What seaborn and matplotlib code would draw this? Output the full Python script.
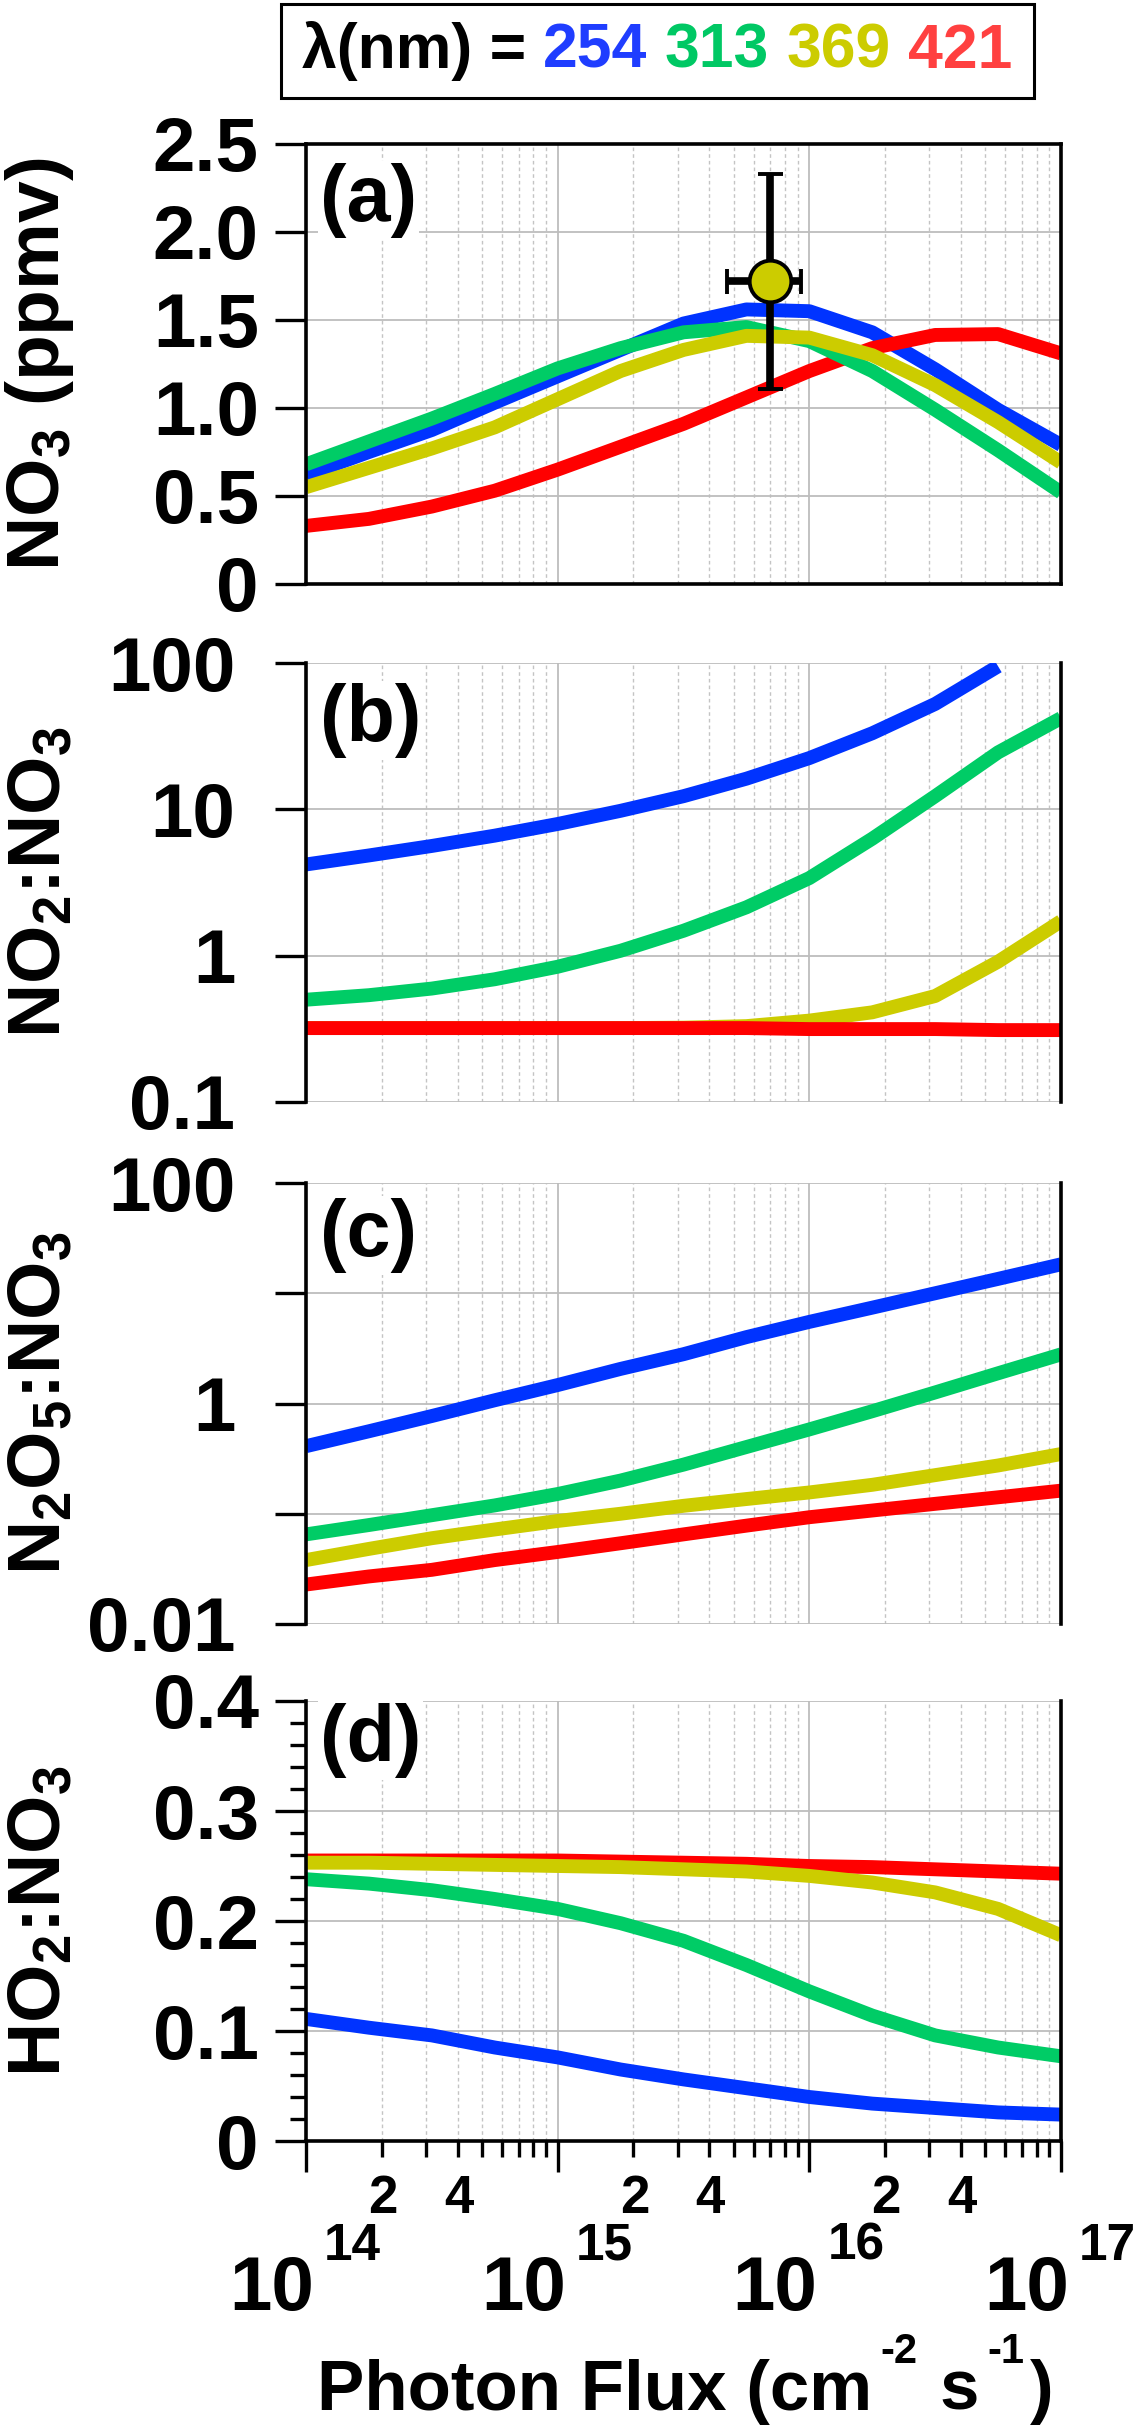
import numpy as np
import pandas as pd
import matplotlib
matplotlib.use("Agg")
import matplotlib.pyplot as plt
import matplotlib.ticker as mticker
from matplotlib.transforms import offset_copy
from matplotlib.offsetbox import TextArea, HPacker, AnchoredOffsetbox
from matplotlib.patches import Rectangle
import seaborn as sns

sns.set_style("white")
plt.rcParams['font.family'] = ['Liberation Sans', 'DejaVu Sans']
plt.rcParams['font.weight'] = 'bold'
plt.rcParams['mathtext.default'] = 'regular'
for k in ['text.color', 'axes.labelcolor', 'xtick.color', 'ytick.color', 'axes.edgecolor']:
    plt.rcParams[k] = 'black'

# photon flux grid (log10 of cm-2 s-1)
flux_exp = [14.0, 14.25, 14.5, 14.75, 15.0, 15.25, 15.5, 15.75, 16.0, 16.25, 16.5, 16.75, 17.0]
wavelengths = ['254', '313', '369', '421']
colors = {'254': '#0033FF', '313': '#00CC66', '369': '#CCCC00', '421': '#FF0000'}
text_colors = {'254': '#1F3DFF', '313': '#00C864', '369': '#CCCC00', '421': '#FF4040'}

# (a) NO3 (ppmv)
no3_254 = [0.62, 0.75, 0.875, 1.03, 1.18, 1.33, 1.48, 1.56, 1.55, 1.43, 1.22, 0.99, 0.79]
no3_313 = [0.68, 0.81, 0.94, 1.08, 1.225, 1.34, 1.43, 1.46, 1.38, 1.21, 0.99, 0.76, 0.52]
no3_369 = [0.55, 0.66, 0.77, 0.89, 1.05, 1.21, 1.33, 1.41, 1.40, 1.30, 1.13, 0.92, 0.69]
no3_421 = [0.33, 0.37, 0.44, 0.53, 0.65, 0.78, 0.91, 1.06, 1.21, 1.34, 1.415, 1.42, 1.31]

# (b) NO2:NO3
no2_254 = [4.2, 4.84, 5.62, 6.61, 7.94, 9.77, 12.3, 16.2, 22.4, 33.1, 52.5, 95, np.nan]
no2_313 = [0.50, 0.537, 0.596, 0.69, 0.84, 1.08, 1.48, 2.14, 3.39, 6.3, 12.3, 24.5, 42]
no2_369 = [0.32, 0.32, 0.32, 0.32, 0.32, 0.32, 0.322, 0.33, 0.36, 0.41, 0.53, 0.91, 1.72]
no2_421 = [0.32, 0.32, 0.32, 0.32, 0.32, 0.32, 0.32, 0.32, 0.315, 0.315, 0.315, 0.31, 0.31]

# (c) N2O5:NO3
n2o5_254 = [0.41, 0.56, 0.77, 1.07, 1.47, 2.06, 2.8, 4.0, 5.5, 7.4, 10.0, 13.5, 18.3]
n2o5_313 = [0.065, 0.079, 0.097, 0.119, 0.151, 0.20, 0.279, 0.403, 0.582, 0.851, 1.26, 1.88, 2.79]
n2o5_369 = [0.038, 0.048, 0.060, 0.072, 0.086, 0.10, 0.118, 0.136, 0.156, 0.183, 0.224, 0.274, 0.348]
n2o5_421 = [0.0228, 0.027, 0.031, 0.038, 0.045, 0.054, 0.065, 0.078, 0.093, 0.107, 0.123, 0.141, 0.162]

# (d) HO2:NO3
ho2_254 = [0.111, 0.103, 0.096, 0.085, 0.076, 0.065, 0.056, 0.048, 0.040, 0.034, 0.030, 0.026, 0.024]
ho2_313 = [0.238, 0.234, 0.228, 0.220, 0.211, 0.198, 0.182, 0.160, 0.136, 0.114, 0.096, 0.085, 0.077]
ho2_369 = [0.253, 0.253, 0.252, 0.251, 0.250, 0.249, 0.247, 0.245, 0.241, 0.235, 0.226, 0.211, 0.187]
ho2_421 = [0.255, 0.255, 0.255, 0.255, 0.255, 0.254, 0.253, 0.252, 0.250, 0.249, 0.247, 0.245, 0.243]

# measured NO3 point
obs_flux = [7.0e15]
obs_flux_err = [2.3e15]
obs_no3 = [1.72]
obs_no3_err = [0.61]

# x tick labels of the bottom axis
major_ticks = [1e14, 1e15, 1e16, 1e17]
major_exps = ['14', '15', '16', '17']
minor_labelled = [2e14, 4e14, 2e15, 4e15, 2e16, 4e16]
minor_texts = ['2', '4', '2', '4', '2', '4']

flux = 10.0 ** np.array(flux_exp)


def long_df(series):
    frames = []
    for wl, vals in zip(wavelengths, series):
        frames.append(pd.DataFrame({'flux': flux, 'value': vals, 'wl': wl}))
    return pd.concat(frames, ignore_index=True)


W, H = 1136, 2428
fig = plt.figure(figsize=(W / 100, H / 100), dpi=100)

x0, x1 = 306, 1061
panel_px = [(144, 584), (663, 1102), (1183, 1624), (1701, 2141)]
axes = []
for top, bot in panel_px:
    axes.append(fig.add_axes([x0 / W, 1 - bot / H, (x1 - x0) / W, (bot - top) / H]))

panels = [
    dict(data=[no3_254, no3_313, no3_369, no3_421], ylabel=r'NO$_3$ (ppmv)', letter='(a)',
         order=['254', '421', '313', '369'], off=19),
    dict(data=[no2_254, no2_313, no2_369, no2_421], ylabel=r'NO$_2$:NO$_3$', letter='(b)',
         order=['254', '313', '369', '421'], off=20),
    dict(data=[n2o5_254, n2o5_313, n2o5_369, n2o5_421], ylabel=r'N$_2$O$_5$:NO$_3$', letter='(c)',
         order=['254', '313', '369', '421'], off=15),
    dict(data=[ho2_254, ho2_313, ho2_369, ho2_421], ylabel=r'HO$_2$:NO$_3$', letter='(d)',
         order=['254', '313', '421', '369'], off=2),
]

tick_fs = 55
grid_major = '#BDBDBD'
grid_minor = '#C4C4C4'

for i, (ax, p) in enumerate(zip(axes, panels)):
    df = long_df(p['data'])
    sns.lineplot(data=df, x='flux', y='value', hue='wl', hue_order=p['order'],
                 palette=colors, linewidth=10, legend=False, ax=ax, sort=True,
                 solid_capstyle='butt', solid_joinstyle='round')
    ax.set_xscale('log')
    ax.set_xlim(1e14, 1e17)
    ax.set_xlabel('')
    ax.set_ylabel('')

    ax.xaxis.set_major_locator(mticker.LogLocator(base=10, numticks=10))
    ax.xaxis.set_minor_locator(mticker.LogLocator(base=10, subs=np.arange(2, 10), numticks=30))
    ax.grid(True, which='major', axis='both', color=grid_major, lw=1.3, ls='-')
    ax.grid(True, which='minor', axis='x', color=grid_minor, lw=1.0, ls=(0, (2.6, 2.2)))
    ax.set_axisbelow(True)

    for s in ax.spines.values():
        s.set_linewidth(2.6)
        s.set_color('black')

    ax.tick_params(axis='y', which='major', direction='out', length=22, width=2.4,
                   labelsize=tick_fs, left=True, right=False, colors='black')
    ax.tick_params(axis='y', which='minor', direction='out', length=11.5, width=2.4,
                   left=True, right=False, colors='black')

    if i < 3:
        ax.tick_params(axis='x', which='both', bottom=False, labelbottom=False)
    else:
        ax.tick_params(axis='x', which='major', direction='out', length=22, width=2.4,
                       bottom=True, labelbottom=False, colors='black')
        ax.tick_params(axis='x', which='minor', direction='out', length=11.5, width=2.4,
                       bottom=True, labelbottom=False, colors='black')

    ax.text(14 / (x1 - x0), 1 - p['off'] / 440, p['letter'], transform=ax.transAxes,
            ha='left', va='top', fontsize=57, fontweight='bold', zorder=20, color='black',
            bbox=dict(facecolor='white', edgecolor='none', pad=1))

    fig.text(40 / W, 1 - (panel_px[i][0] + panel_px[i][1]) / 2 / H, p['ylabel'],
             rotation=90, ha='center', va='center', fontsize=54, fontweight='bold', color='black')

# panel a
ax = axes[0]
ax.set_ylim(0, 2.5)
ax.set_yticks([0, 0.5, 1.0, 1.5, 2.0, 2.5])
ax.set_yticklabels(['0', '0.5', '1.0', '1.5', '2.0', '2.5'])
ax.yaxis.set_minor_locator(mticker.NullLocator())
ax.tick_params(axis='y', pad=12)
ax.errorbar(obs_flux, obs_no3, xerr=obs_flux_err, yerr=obs_no3_err, fmt='o', ms=30,
            mfc='#CCCC00', mec='black', mew=2.8, ecolor='black', elinewidth=5.5,
            capsize=9, capthick=5, zorder=15)

# panel b
ax = axes[1]
ax.set_yscale('log')
ax.set_ylim(0.1, 100)
ax.set_yticks([0.1, 1, 10, 100])
ax.set_yticklabels(['0.1', '1', '10', '100'])
ax.yaxis.set_minor_locator(mticker.NullLocator())
ax.tick_params(axis='y', pad=29)
ax.spines['top'].set_visible(False)
ax.spines['bottom'].set_visible(False)

# panel c
ax = axes[2]
ax.set_yscale('log')
ax.set_ylim(0.01, 100)
ax.set_yticks([0.01, 0.1, 1, 10, 100])
ax.set_yticklabels(['0.01', '', '1', '', '100'])
ax.yaxis.set_minor_locator(mticker.NullLocator())
ax.tick_params(axis='y', pad=29)
ax.spines['top'].set_visible(False)
ax.spines['bottom'].set_visible(False)

# panel d
ax = axes[3]
ax.set_ylim(0, 0.4)
ax.set_yticks([0, 0.1, 0.2, 0.3, 0.4])
ax.set_yticklabels(['0', '0.1', '0.2', '0.3', '0.4'])
ax.yaxis.set_minor_locator(mticker.MultipleLocator(0.02))
ax.tick_params(axis='y', pad=12)
ax.spines['top'].set_visible(False)

# x tick labels in two rows: "2 4" and 10 with raised exponent
xtr = ax.get_xaxis_transform()
for v, e in zip(major_ticks, major_exps):
    ax.text(v, 0, '10', transform=offset_copy(xtr, fig=fig, x=8, y=-169, units='dots'),
            ha='right', va='baseline', fontsize=55, fontweight='bold', clip_on=False)
    ax.text(v, 0, e, transform=offset_copy(xtr, fig=fig, x=18, y=-119, units='dots'),
            ha='left', va='baseline', fontsize=37, fontweight='bold', clip_on=False)
for v, s in zip(minor_labelled, minor_texts):
    ax.text(v, 0, s, transform=offset_copy(xtr, fig=fig, x=1, y=-72, units='dots'),
            ha='center', va='baseline', fontsize=38, fontweight='bold', clip_on=False)

# axis title built from pieces so the exponents sit high like the original
renderer = fig.canvas.get_renderer()
title_pieces = [('Photon Flux (cm', 51, 0, 8), ('-2', 30, 47, 22), ('s', 51, 0, 8),
                ('-1', 30, 47, 6), (')', 51, 0, 0)]
widths = []
for s, fs, rise, gap in title_pieces:
    t = fig.text(0, 0, s, fontsize=fs, fontweight='bold')
    widths.append(t.get_window_extent(renderer).width)
    t.remove()
total = sum(widths) + sum(g for _, _, _, g in title_pieces)
xpos = 685.5 - total / 2
for (s, fs, rise, gap), w in zip(title_pieces, widths):
    fig.text(xpos / W, (H - 2410 + rise) / H, s, fontsize=fs, fontweight='bold',
             ha='left', va='baseline', color='black')
    xpos += w + gap

# wavelength key box on top
fig.patches.append(Rectangle((281 / W, 1 - 98 / H), (1034 - 281) / W, 94 / H,
                             transform=fig.transFigure, fill=False, ec='black', lw=2.2))
pieces = [TextArea('\u03bb(nm) =', textprops=dict(color='black', size=45, weight='bold'))]
for wl in wavelengths:
    pieces.append(TextArea(wl, textprops=dict(color=text_colors[wl], size=45, weight='bold')))
key = AnchoredOffsetbox(loc='center', child=HPacker(children=pieces, sep=12.5, pad=0, align='baseline'),
                        frameon=False, bbox_to_anchor=(657 / W, 1 - 51 / H),
                        bbox_transform=fig.transFigure, pad=0, borderpad=0)
fig.add_artist(key)

fig.savefig('out.png', dpi=100)
